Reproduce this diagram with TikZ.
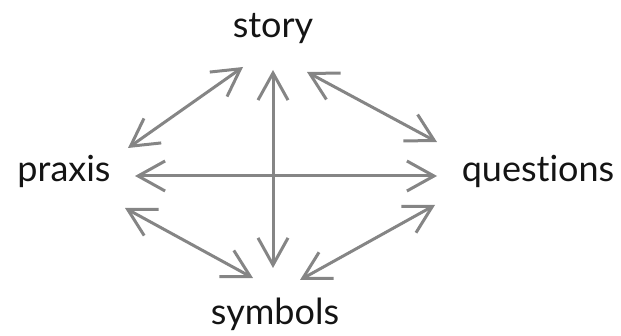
\documentclass[tikz,border=0pt]{standalone}
\usepackage{fontspec}
\setmainfont[Ligatures=NoCommon]{Lato}
\usepackage{xcolor}
\usepackage{tikz}
\usetikzlibrary{arrows.meta}
\definecolor{linec}{HTML}{858585}
\definecolor{textc}{HTML}{141414}
\tikzset{
  dbl/.style={{Straight Barb[length=27pt,width=30pt]}-{Straight Barb[length=27pt,width=30pt]},line width=3pt,linec},
  word/.style={anchor=base,inner sep=0pt,text=textc,font=\fontsize{36}{40}\selectfont}
}

\begin{document}
\begin{tikzpicture}[x=1pt,y=-1pt]
\useasboundingbox (0,0) rectangle (621,336);
\node[word] (story) at (273,38) {story};
\node[word] (praxis) at (64,182) {praxis};
\node[word] (questions) at (538,182) {questions};
\node[word] (symbols) at (275,325) {symbols};
% arrows between the four words
\draw[dbl] ([shift={(-30,29)}]story.base) -- ([shift={(64,-34)}]praxis.base);
\draw[dbl] ([shift={(34,34)}]story.base) -- ([shift={(-101,-40)}]questions.base);
\draw[dbl] ([shift={(0,32)}]story.base) -- ([shift={(-2,-57)}]symbols.base);
\draw[dbl] ([shift={(71,-6)}]praxis.base) -- ([shift={(-101,-6)}]questions.base);
\draw[dbl] ([shift={(61,26)}]praxis.base) -- ([shift={(-22,-47)}]symbols.base);
\draw[dbl] ([shift={(-103,23)}]questions.base) -- ([shift={(25,-45)}]symbols.base);
\end{tikzpicture}
\end{document}
